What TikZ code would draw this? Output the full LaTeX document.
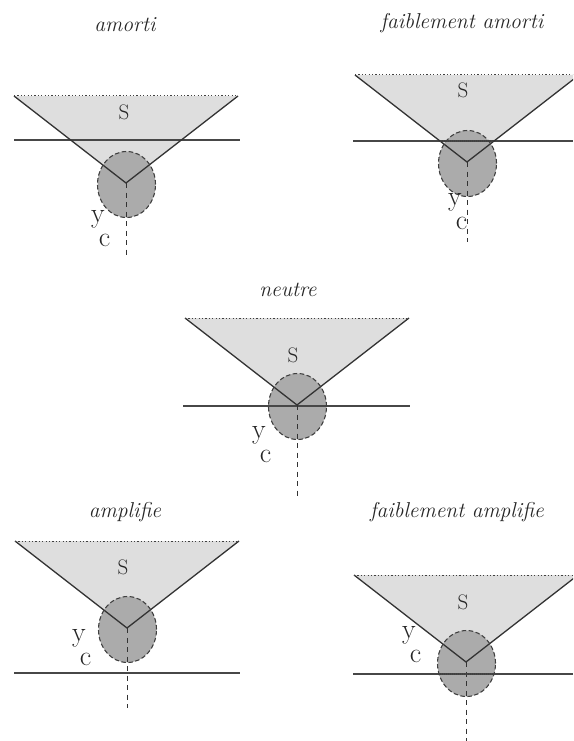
\documentclass[tikz,border=0pt]{standalone}
\begin{document}
\begin{tikzpicture}[x=1pt,y=-1pt,
  trifill/.style={fill=black!13},
  ellfill/.style={fill=black!33},
  hline/.style={draw=black!72,line width=1.1pt},
  vline/.style={draw=black!80,line width=1.3pt},
  topline/.style={draw=black!75,line width=1pt,dash pattern=on 1.2pt off 2.2pt},
  elldash/.style={draw=black!75,line width=1.1pt,dash pattern=on 4.5pt off 2.5pt},
  vdash/.style={draw=black!80,line width=1pt,dash pattern=on 5pt off 4.5pt},
  indot/.style={draw=black!75,line width=1.8pt,dash pattern=on 1pt off 1pt},
  ttl/.style={font=\fontsize{21.5}{24}\selectfont\itshape,text=black!85,inner sep=0pt},
  slab/.style={font=\fontsize{21}{24}\selectfont,text=black!85,inner sep=0pt},
  ylab/.style={font=\fontsize{28}{30}\selectfont,text=black!85,inner sep=0pt,anchor=base west}]
\useasboundingbox (0,0) rectangle (573,741);
\clip (0,0) rectangle (573,741);
\newcommand\drawpanel[7]{%
  \coordinate (v#7) at (#1,#2);
  \coordinate (tl#7) at (#1-112,#2-87);
  \coordinate (tr#7) at (#1+112,#2-87);
  \coordinate (e#7) at (#1+0.5,#2+1.5);
  \coordinate (hl#7) at (#4,#3);
  \coordinate (hr#7) at (#5,#3);
  \coordinate (d#7) at (#1,#6);
  \fill[trifill] (tl#7) -- (v#7) -- (tr#7) -- cycle;
  \fill[ellfill] (e#7) ellipse [x radius=29pt, y radius=33pt];
  \draw[hline] (hl#7) -- (hr#7);
  \draw[vline] (tl#7) -- (v#7) -- (tr#7);
  \draw[topline] (tl#7) -- (tr#7);
  \draw[elldash] (e#7) ellipse [x radius=29pt, y radius=33pt];
  \draw[vdash] (v#7) -- (d#7);
}
\newcommand\yc{y\kern-5.8pt\raisebox{-24pt}{c}}
% panel 1 : amorti
\drawpanel{126}{183}{140}{14}{240}{258}{1}
\node[ttl] (t1) at (125,25) {amorti};
\node[slab] (s1) at (124,112) {S};
\node[ylab] (y1) at (91,222) {\yc};
% panel 2 : faiblement amorti
\drawpanel{467}{162}{141}{353}{573}{242}{2}
\coordinate (i2a) at (440,141);
\coordinate (i2b) at (494,141);
\draw[indot] (i2a) -- (i2b);
\node[ttl] (t2) at (462,23) {faiblement amorti};
\node[slab] (s2) at (463,90) {S};
\node[ylab] (y2) at (448,205) {\yc};
% panel 3 : neutre
\drawpanel{297}{405}{406}{183}{410}{498}{3}
\node[ttl] (t3) at (288,290) {neutre};
\node[slab] (s3) at (293,355) {S};
\node[ylab] (y3) at (252,438) {\yc};
% panel 4 : amplifie
\drawpanel{127}{628}{673}{14}{240}{708}{4}
\node[ttl] (t4) at (125,512) {amplifie};
\node[slab] (s4) at (123,567) {S};
\node[ylab] (y4) at (72,641) {\yc};
% panel 5 : faiblement amplifie
\drawpanel{466}{662}{674}{353}{573}{741}{5}
\coordinate (i5a) at (438,674);
\coordinate (i5b) at (494,674);
\draw[indot] (i5a) -- (i5b);
\node[ttl] (t5) at (457,512) {faiblement amplifie};
\node[slab] (s5) at (463,602) {S};
\node[ylab] (y5) at (402,638) {\yc};
\end{tikzpicture}
\end{document}
